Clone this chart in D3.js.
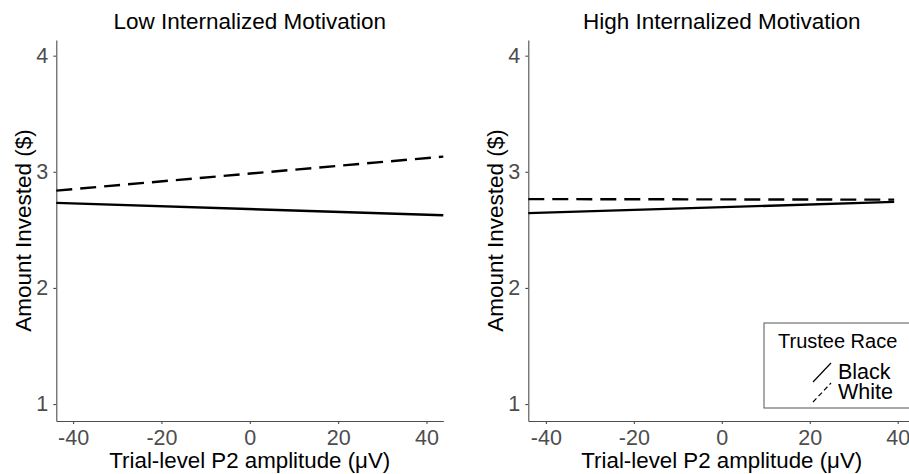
<!DOCTYPE html>
<html>
<head>
<meta charset="utf-8">
<script src="https://cdn.jsdelivr.net/npm/d3@7"></script>
<style>
  body { margin: 0; background: #fff; }
  svg text { font-family: "Liberation Sans", Arial, sans-serif; }
</style>
</head>
<body>
<svg id="chart" width="909" height="474"></svg>
<script>
// chart data
const panelTitles = ["Low Internalized Motivation", "High Internalized Motivation"];
const races = ["Black", "White"];
const xTicks = [-40, -20, 0, 20, 40];
const yTicks = [1, 2, 3, 4];

const lowX = [-43.8, 43.8];
const lowBlack = [2.732, 2.626];
const lowWhite = [2.838, 3.131];

const highX = [-44, 39.2];
const highBlack = [2.644, 2.741];
const highWhite = [2.765, 2.760];

const xDomains = [[-43.8, 43.8], [-44, 44]];
const yDomain = [0.854, 4.135];

// general layout
const svg = d3.select("svg#chart");
const panelLeft = [56.3, 528.3];
const panelWidth = 387;
const plotTop = 40, plotBottom = 421;
const axisColor = "#4d4d4d";
const dashes = { Black: null, White: "16,8" };

const y = d3.scaleLinear().domain(yDomain).range([plotBottom, plotTop]);

const seriesByPanel = [
  { x: lowX, Black: lowBlack, White: lowWhite },
  { x: highX, Black: highBlack, White: highWhite }
];

// plain hyphen for negatives, like the original
const fmt = d => String(d);

panelTitles.forEach((title, i) => {
  const x0 = panelLeft[i];
  const x = d3.scaleLinear().domain(xDomains[i]).range([x0, x0 + panelWidth]);
  const g = svg.append("g");

  // y axis
  const yAxis = g.append("g")
    .attr("transform", `translate(${x0},0)`)
    .call(d3.axisLeft(y).tickValues(yTicks).tickFormat(fmt).tickSize(3).tickSizeOuter(0).tickPadding(5));
  // x axis
  const xAxis = g.append("g")
    .attr("transform", `translate(0,${plotBottom})`)
    .call(d3.axisBottom(x).tickValues(xTicks).tickFormat(fmt).tickSize(3).tickSizeOuter(0).tickPadding(6));

  [yAxis, xAxis].forEach(a => {
    a.select(".domain").attr("stroke", axisColor).attr("stroke-width", 1.1);
    a.selectAll(".tick line").attr("stroke", axisColor).attr("stroke-width", 1.1);
    a.selectAll(".tick text")
      .attr("fill", "#4d4d4d")
      .style("font-size", "21.5px")
      .style("font-family", '"Liberation Sans", Arial, sans-serif');
  });

  // lines per race
  const s = seriesByPanel[i];
  races.forEach(race => {
    const pts = s.x.map((v, k) => [v, s[race][k]]);
    g.append("path")
      .datum(pts)
      .attr("d", d3.line().x(d => x(d[0])).y(d => y(d[1])))
      .attr("fill", "none")
      .attr("stroke", "#000")
      .attr("stroke-width", 2.4)
      .attr("stroke-dasharray", dashes[race]);
  });

  // titles
  g.append("text")
    .attr("x", x0 + panelWidth / 2)
    .attr("y", 29)
    .attr("text-anchor", "middle")
    .style("font-size", "22.5px")
    .text(title);

  g.append("text")
    .attr("x", x0 + panelWidth / 2)
    .attr("y", 468)
    .attr("text-anchor", "middle")
    .style("font-size", "22.3px")
    .text("Trial-level P2 amplitude (\u03BCV)");

  g.append("text")
    .attr("transform", `translate(${x0 - 25},${(plotTop + plotBottom) / 2}) rotate(-90)`)
    .attr("text-anchor", "middle")
    .style("font-size", "22.5px")
    .text("Amount Invested ($)");
});

// legend, inside the right panel
const legend = svg.append("g").attr("transform", "translate(764,323)");
legend.append("rect")
  .attr("x", 0).attr("y", 0)
  .attr("width", 160).attr("height", 85)
  .attr("fill", "#fff")
  .attr("stroke", "#555")
  .attr("stroke-width", 1);
legend.append("text")
  .attr("x", 14).attr("y", 25)
  .style("font-size", "20px")
  .text("Trustee Race");

races.forEach((race, k) => {
  const ky = 40 + k * 20;
  legend.append("line")
    .attr("x1", 49).attr("y1", ky + 19)
    .attr("x2", 67).attr("y2", ky)
    .attr("stroke", "#000")
    .attr("stroke-width", 1.2)
    .attr("stroke-dasharray", race === "White" ? "5,3" : null);
  legend.append("text")
    .attr("x", 74).attr("y", ky + 16)
    .style("font-size", "21.5px")
    .text(race);
});
</script>
</body>
</html>
